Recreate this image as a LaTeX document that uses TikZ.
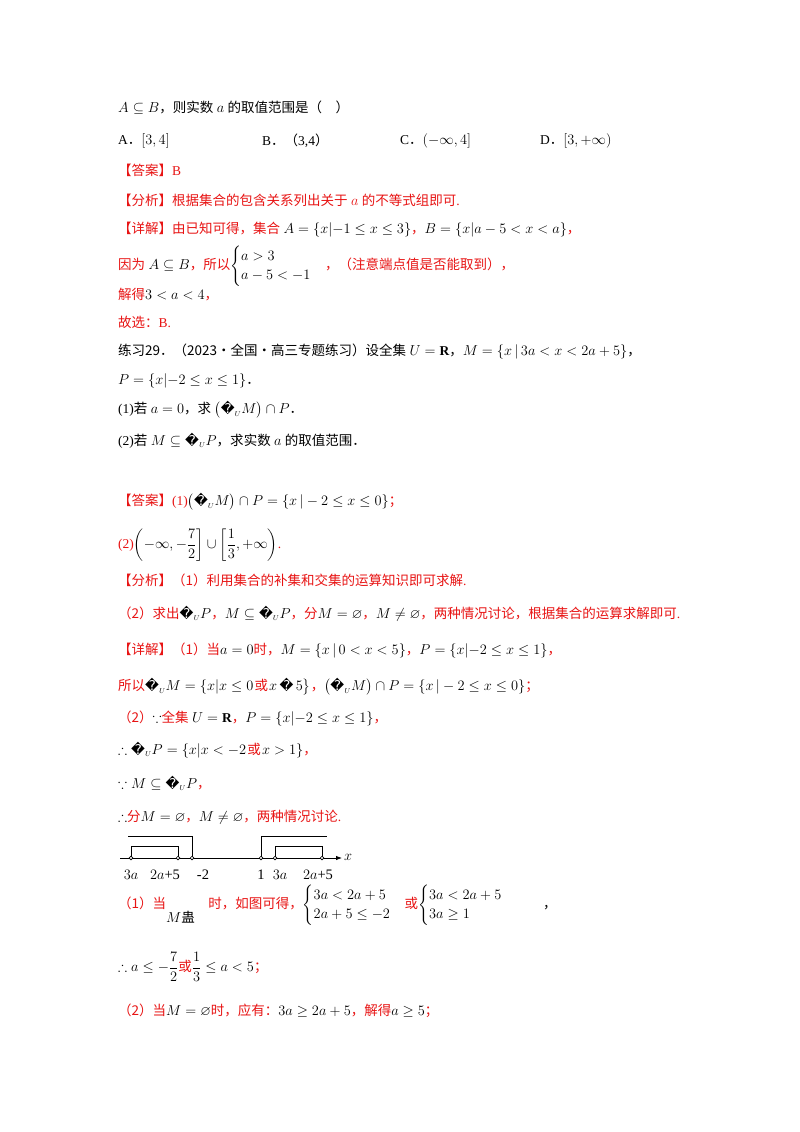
\documentclass[tikz,border=0pt]{standalone}
\usepackage{amsmath,amssymb}
\usepackage{fontspec}
\usetikzlibrary{arrows.meta}
\setmainfont{Liberation Serif}
\newfontfamily\cjk{Noto Sans CJK SC}
\newfontfamily\dv{DejaVu Sans}
\definecolor{rd}{RGB}{232,20,20}
\newcommand{\R}[1]{\textcolor{rd}{\cjk #1}}
\newcommand{\C}[1]{{\cjk #1}}
\newcommand{\Q}{\text{\dv\char"FFFD}}
\newcommand{\QU}{\Q_{\scriptscriptstyle U}}
\begin{document}
\begin{tikzpicture}[x=1pt,y=-1pt,
  t/.style={anchor=west,inner sep=0pt,font=\fontsize{13.5}{16}\selectfont},
  ax/.style={line width=0.8pt},
  pt/.style={circle,draw,fill=white,inner sep=1.3pt,line width=0.6pt},
  lb/.style={inner sep=0pt,font=\fontsize{14.5}{16}\selectfont}]
\useasboundingbox[fill=white] (0,0) rectangle (800,1132);
\node[t] (l1) at (118,108) {$A\subseteq B$\C{，则实数} $a$ \C{的取值范围是（\quad）}};
\node[t] (l2a) at (118,141) {A\C{．}$[3,4]$};
\node[t] (l2b) at (262,141) {B\C{．（}3,4\C{）}};
\node[t] (l2c) at (400,141) {C\C{．}$(-\infty,4]$};
\node[t] (l2d) at (540,141) {D\C{．}$[3,+\infty)$};
\node[t] (l3) at (118,170) {\R{【答案】}\textcolor{rd}{B}};
\node[t] (l4) at (118,200) {\R{【分析】根据集合的包含关系列出关于} \textcolor{rd}{$a$} \R{的不等式组即可}\textcolor{rd}{.}};
\node[t] (l5) at (118,230) {\R{【详解】由已知可得，集合} $A=\left\{x\middle|-1\le x\le 3\right\}$\R{，}$B=\left\{x\middle|a-5<x<a\right\}$\R{，}};
\node[t] (l6) at (118,266) {\R{因为} $A\subseteq B$\R{，所以}$\begin{cases}a>3\\a-5<-1\end{cases}$\R{，（注意端点值是否能取到），}};
\node[t] (l7) at (118,295) {\R{解得}$3<a<4$\R{，}};
\node[t] (l8) at (118,322) {\R{故选：}\textcolor{rd}{B.}};
\node[t] (l9) at (118,352) {\C{练习29．（2023·全国·高三专题练习）设全集}\ $U=\mathbf{R}$\C{，}$M=\{x\,|\,3a<x<2a+5\}$\C{，}};
\node[t] (l10) at (118,381) {$P=\left\{x\middle|-2\le x\le 1\right\}$\C{．}};
\node[t] (l11) at (118,410) {(1)\C{若}\ $a=0$\C{，求}\ $\left(\QU M\right)\cap P$\C{．}};
\node[t] (l12) at (118,441) {(2)\C{若}\ $M\subseteq\QU P$\C{，求实数}\ $a$\ \C{的取值范围．}};
\node[t] (l13) at (118,502) {\R{【答案】}\textcolor{rd}{(1)}$\left(\QU M\right)\cap P=\{x\,|-2\le x\le 0\}$\R{；}};
\node[t] (l14) at (118,545) {\textcolor{rd}{(2)}$\left(-\infty,-\dfrac72\right]\cup\left[\dfrac13,+\infty\right)$\textcolor{rd}{.}};
\node[t] (l15) at (118,580) {\R{【分析】（1）利用集合的补集和交集的运算知识即可求解}\textcolor{rd}{.}};
\node[t] (l16) at (118,614) {\R{（2）求出}$\QU P$\R{，}$M\subseteq\QU P$\R{，分}$M=\varnothing$\R{，}$M\ne\varnothing$\R{，两种情况讨论，根据集合的运算求解即可}\textcolor{rd}{.}};
\node[t] (l17) at (118,651) {\R{【详解】（1）当}$a=0$\R{时，}$M=\{x\,|\,0<x<5\}$\R{，}$P=\left\{x\middle|-2\le x\le 1\right\}$\R{，}};
\node[t] (l18) at (118,687) {\R{所以}$\QU M=\left\{x\middle|x\le 0\right.$\R{或}$\left.x\,\Q\,5\right\}$\R{，}$\left(\QU M\right)\cap P=\{x\,|-2\le x\le 0\}$\R{；}};
\node[t] (l19) at (118,719) {\R{（2）}$\because$\R{全集}\ $U=\mathbf{R}$\R{，}$P=\left\{x\middle|-2\le x\le 1\right\}$\R{，}};
\node[t] (l20) at (118,750) {$\therefore\QU P=\left\{x\middle|x<-2\right.$\R{或}$\left.x>1\right\}$\R{，}};
\node[t] (l21) at (118,783) {$\because M\subseteq\QU P$\R{，}};
\node[t] (l22) at (118,817) {$\therefore$\R{分}$M=\varnothing$\R{，}$M\ne\varnothing$\R{，两种情况讨论}\textcolor{rd}{.}};
% number line
\coordinate (a0) at (120,858);
\coordinate (a1) at (342,858);
\draw[ax,-{Latex[length=6pt]}] (a0) -- (a1);
\node[lb,anchor=west] (xl) at (344,857) {$x$};
\draw[ax] (128,836) -- (192,836) -- (192,858);
\draw[ax] (131,858) -- (131,846) -- (178,846) -- (178,858);
\draw[ax] (261,858) -- (261,836) -- (327,836);
\draw[ax] (275,858) -- (275,846) -- (322,846) -- (322,858);
\foreach \n/\x in {p1/131,p2/178,p3/192,p4/261,p5/275,p6/322}{\node[pt] (\n) at (\x,858) {};}
\node[lb] (t1) at (131,875) {$3a$};
\node[lb] (t2) at (165,875) {$2a$+5};
\node[lb] (t3) at (203,875) {-2};
\node[lb] (t4) at (261,875) {1};
\node[lb] (t5) at (280,875) {$3a$};
\node[lb] (t6) at (318,875) {$2a$+5};
\node[t] (l24) at (118,905) {\R{（1）当}\raisebox{-14pt}{$M$\C{蛊}}\quad\R{时，如图可得，}$\begin{cases}3a<2a+5\\2a+5\le-2\end{cases}$\R{或}$\begin{cases}3a<2a+5\\3a\ge1\end{cases}$\qquad\C{，}};
\node[t] (l25) at (118,967) {$\therefore a\le-\dfrac72$\R{或}$\dfrac13\le a<5$\R{；}};
\node[t] (l26) at (118,1011) {\R{（2）当}$M=\varnothing$\R{时，应有：}$3a\ge2a+5$\R{，解得}$a\ge5$\R{；}};
\end{tikzpicture}
\end{document}
